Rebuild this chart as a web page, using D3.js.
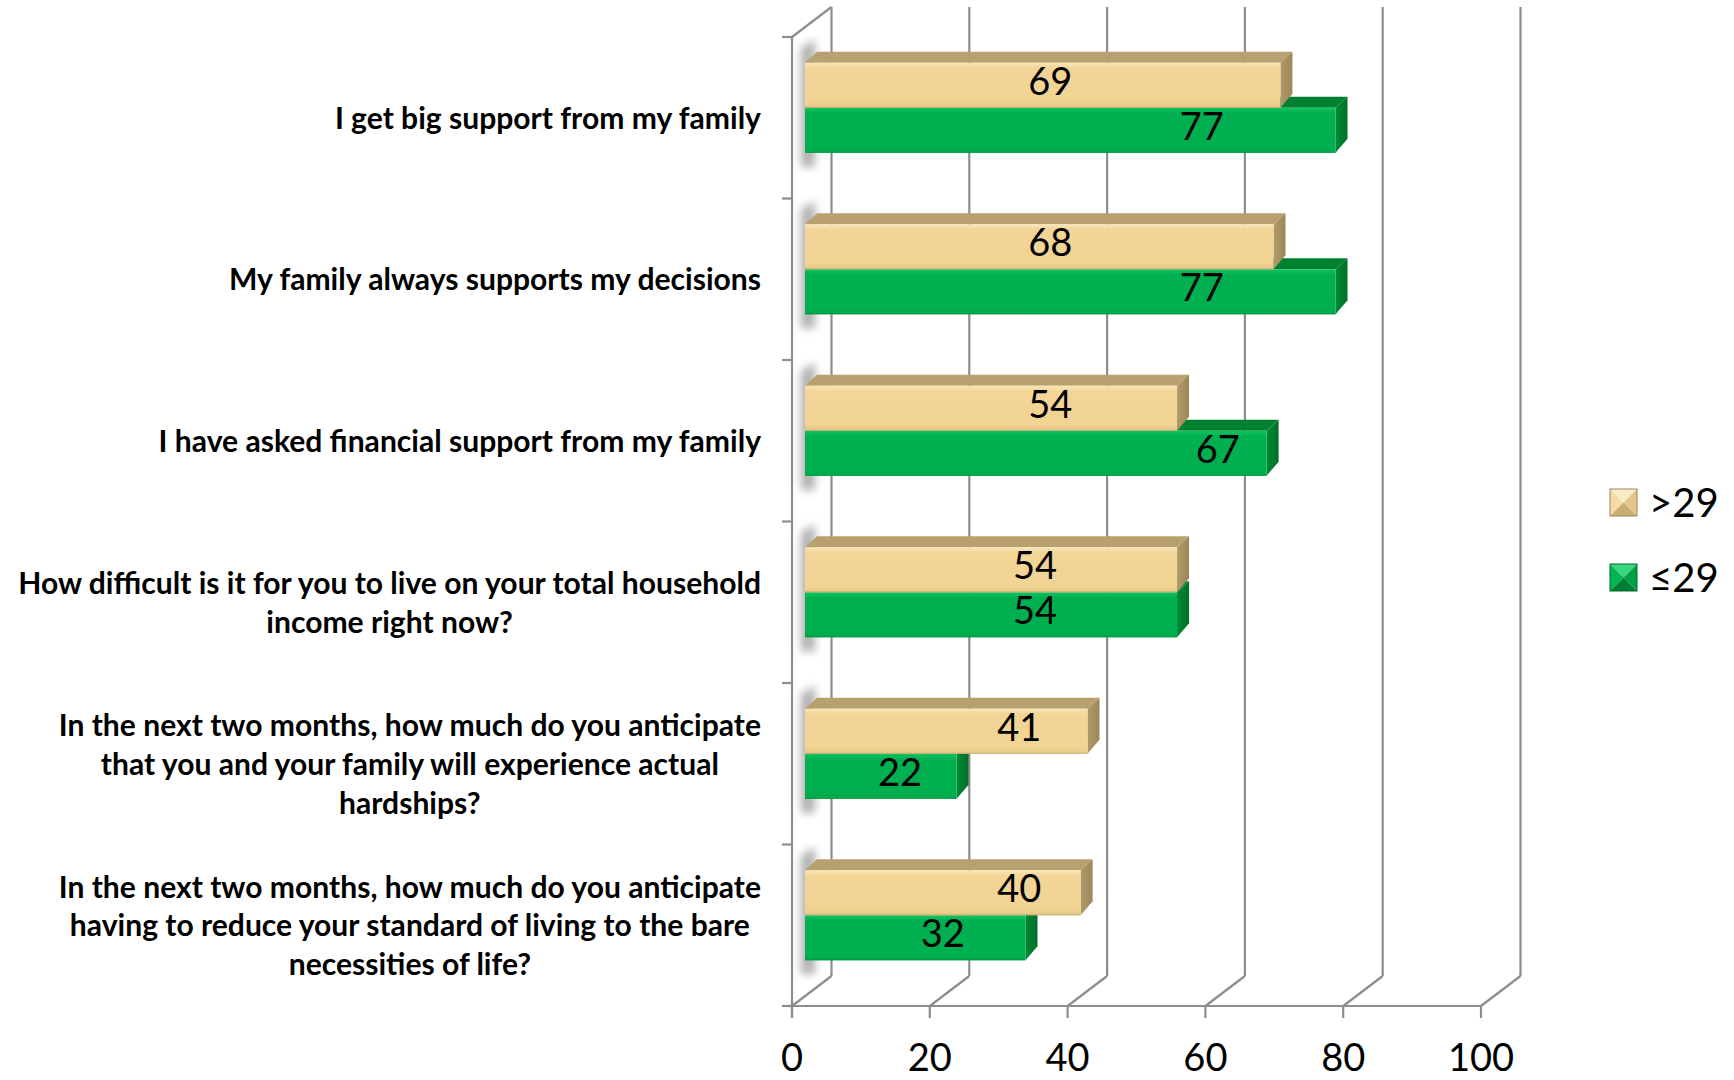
<!DOCTYPE html>
<html>
<head>
<meta charset="utf-8">
<script src="https://cdn.jsdelivr.net/npm/d3@7"></script>
<style>
  html, body { margin: 0; padding: 0; background: #ffffff; }
  svg { display: block; }
</style>
</head>
<body>
<svg id="chart" width="1734" height="1080"></svg>
<script>
// ---- data ---------------------------------------------------------------
const categories = [
  ["I get big support from my family"],
  ["My family always supports my decisions"],
  ["I have asked financial support from my family"],
  ["How difficult is it for you to live on your total household", "income right now?"],
  ["In the next two months, how much do you anticipate", "that you and your family will experience actual", "hardships?"],
  ["In the next two months, how much do you anticipate", "having to reduce your standard of living to the bare", "necessities of life?"]
];
const seriesNames = [">29", "\u226429"];
const over29 = [69, 68, 54, 54, 41, 40];
const upTo29 = [77, 77, 67, 54, 22, 32];
// where each value label sits along the value axis
const over29LabelAt = [35.6, 35.6, 35.6, 33.4, 31.1, 31.1];
const upTo29LabelAt = [57.6, 57.6, 59.9, 33.4, 13.8, 20.0];
const xTicks = [0, 20, 40, 60, 80, 100];

// ---- layout -------------------------------------------------------------
const W = 1734, H = 1080;
const plot = { left: 792, right: 1481, top: 37, bottom: 1006 };
const wallDepth = { dx: 39.5, dy: -30 };          // floor / wall depth
const barOffset = { dx: 13, dy: -10 };            // bar front face inside the box
const barDepth = { dx: 12, dy: -11 };             // thickness of each bar
const barH = 45;
const gridColor = "#8d8d8d";

const svg = d3.select("#chart");
const defs = svg.append("defs");

const x = d3.scaleLinear().domain([0, 100]).range([plot.left, plot.right]);
const y = d3.scaleBand().domain(d3.range(categories.length)).range([plot.top, plot.bottom]);
const sub = d3.scaleBand().domain([0, 1]).range([-barH, barH]);

const palettes = [
  { front: ["#f8e6b8", "#f2d597", "#f1d494", "#e6c885"], top: "#b9a16f", end: ["#b09a69", "#9c875a"], stroke: "#c8b07a" },
  { front: ["#10c462", "#00b050", "#00b050", "#00a84b"], top: "#00812f", end: ["#008a35", "#006f28"], stroke: "#009a44" }
];

palettes.forEach((p, i) => {
  const gr = defs.append("linearGradient").attr("id", "front" + i)
    .attr("x1", 0).attr("y1", 0).attr("x2", 0).attr("y2", 1);
  gr.append("stop").attr("offset", "0").attr("stop-color", p.front[0]);
  gr.append("stop").attr("offset", "0.12").attr("stop-color", p.front[1]);
  gr.append("stop").attr("offset", "0.85").attr("stop-color", p.front[2]);
  gr.append("stop").attr("offset", "1").attr("stop-color", p.front[3]);
  const ge = defs.append("linearGradient").attr("id", "end" + i)
    .attr("x1", 0).attr("y1", 0).attr("x2", 1).attr("y2", 0);
  ge.append("stop").attr("offset", "0").attr("stop-color", p.end[0]);
  ge.append("stop").attr("offset", "1").attr("stop-color", p.end[1]);
});

const blur = defs.append("filter").attr("id", "soft")
  .attr("x", "-100%").attr("y", "-50%").attr("width", "300%").attr("height", "200%");
blur.append("feGaussianBlur").attr("stdDeviation", 4);

// ---- box: walls, floor, grid -------------------------------------------
const frame = svg.append("g").attr("fill", "none").attr("stroke", gridColor)
  .attr("stroke-width", 2.2);

// back-wall gridlines
frame.selectAll("line.grid").data(xTicks).join("line")
  .attr("x1", d => x(d) + wallDepth.dx).attr("x2", d => x(d) + wallDepth.dx)
  .attr("y1", plot.bottom + wallDepth.dy).attr("y2", plot.top + wallDepth.dy);

// floor diagonals
frame.selectAll("line.floor").data(xTicks).join("line")
  .attr("x1", d => x(d)).attr("x2", d => x(d) + wallDepth.dx)
  .attr("y1", plot.bottom).attr("y2", plot.bottom + wallDepth.dy);

// front value axis with tick marks
frame.append("line").attr("x1", plot.left - 10).attr("x2", plot.right)
  .attr("y1", plot.bottom).attr("y2", plot.bottom);
frame.selectAll("line.xtick").data(xTicks).join("line")
  .attr("x1", d => x(d)).attr("x2", d => x(d))
  .attr("y1", plot.bottom).attr("y2", plot.bottom + 12);

// left wall: front edge, top edge and category ticks
frame.append("line").attr("x1", plot.left).attr("x2", plot.left)
  .attr("y1", plot.top).attr("y2", plot.bottom + 12);
frame.append("line").attr("x1", plot.left).attr("x2", plot.left + wallDepth.dx)
  .attr("y1", plot.top).attr("y2", plot.top + wallDepth.dy);
const catEdges = d3.range(categories.length + 1).map(i => plot.top + i * y.step());
frame.selectAll("line.ytick").data(catEdges).join("line")
  .attr("x1", plot.left - 10).attr("x2", plot.left)
  .attr("y1", d => d).attr("y2", d => d);

// ---- bars ---------------------------------------------------------------
const rows = categories.map((c, i) => ({
  i,
  values: [over29[i], upTo29[i]],
  labelAt: [over29LabelAt[i], upTo29LabelAt[i]]
}));

const barsG = svg.append("g");

// soft shading where the bars meet the left wall
barsG.selectAll("polygon.shade").data(rows).join("polygon")
  .attr("points", r => {
    const c = y(r.i) + y.bandwidth() / 2 + barOffset.dy;
    const x0 = x(0) + barOffset.dx;
    const t = c - barH + barDepth.dy - 12, b = c + barH + 14;
    return [[x0 - 4, t + 8], [x0 + 10, t], [x0 + 10, b], [x0 - 4, b]].join(" ");
  })
  .attr("fill", "#707070").attr("opacity", 0.55).attr("filter", "url(#soft)");

function barShape(g, v, s, i) {
  const p = palettes[s];
  const c = y(i) + y.bandwidth() / 2 + barOffset.dy;
  const x0 = x(0) + barOffset.dx, x1 = x(v) + barOffset.dx;
  const y0 = c + sub(s), y1 = y0 + barH;
  const bx = barDepth.dx, by = barDepth.dy;
  g.append("polygon")
    .attr("points", [[x0, y0], [x1, y0], [x1 + bx, y0 + by], [x0 + bx, y0 + by]].join(" "))
    .attr("fill", p.top);
  g.append("polygon")
    .attr("points", [[x1, y0], [x1 + bx, y0 + by], [x1 + bx, y1 + by - 3], [x1, y1]].join(" "))
    .attr("fill", `url(#end${s})`);
  g.append("rect")
    .attr("x", x0).attr("y", y0).attr("width", x1 - x0).attr("height", barH)
    .attr("fill", `url(#front${s})`);
  g.append("line")
    .attr("x1", x0).attr("x2", x1).attr("y1", y1 - 0.5).attr("y2", y1 - 0.5)
    .attr("stroke", p.stroke).attr("stroke-width", 1);
}

rows.forEach(r => {
  const g = barsG.append("g");
  // lower (≤29) bar first so the >29 bar covers its top face
  barShape(g, r.values[1], 1, r.i);
  barShape(g, r.values[0], 0, r.i);
});

// value labels
const valueLabels = [];
rows.forEach(r => r.values.forEach((v, s) => valueLabels.push({ i: r.i, s, v, at: r.labelAt[s] })));
svg.append("g").selectAll("text").data(valueLabels).join("text")
  .attr("x", d => x(d.at) + barOffset.dx)
  .attr("y", d => y(d.i) + y.bandwidth() / 2 + barOffset.dy + sub(d.s) + barH / 2 - 4)
  .attr("dy", "0.36em")
  .attr("text-anchor", "middle")
  .attr("font-family", "Lato, 'Open Sans', sans-serif")
  .attr("font-size", 38)
  .attr("fill", "#000")
  .text(d => d.v);

// ---- axis labels --------------------------------------------------------
svg.append("g").selectAll("text").data(xTicks).join("text")
  .attr("x", d => x(d)).attr("y", 1057).attr("dy", "0.36em")
  .attr("text-anchor", "middle")
  .attr("font-family", "Lato, 'Open Sans', sans-serif")
  .attr("font-size", 38).attr("fill", "#000")
  .text(d => d);

const labelRight = 761, lineGap = 38.7, labelCondense = 0.97;
const catG = svg.append("g")
  .attr("font-family", "Lato, 'Open Sans', sans-serif")
  .attr("font-weight", 700).attr("font-size", 31).attr("fill", "#000");

categories.forEach((lines, i) => {
  const cy = y(i) + y.bandwidth() / 2;
  const texts = lines.map((line, k) => catG.append("text")
    .attr("y", cy + (k - (lines.length - 1) / 2) * lineGap)
    .attr("dy", "0.36em")
    .attr("text-anchor", "middle")
    .text(line));
  const widths = texts.map(t => t.node().getComputedTextLength() * labelCondense);
  const maxW = d3.max(widths);
  texts.forEach((t, k) => t.attr("x", labelRight - maxW / 2)
    .attr("textLength", widths[k]).attr("lengthAdjust", "spacingAndGlyphs"));
});

// ---- legend -------------------------------------------------------------
const legend = svg.append("g").attr("transform", "translate(1610,489)");
const legendShades = [
  { top: "#f9ebc6", left: "#f4dca6", right: "#e3c688", bottom: "#c9ad73", border: "#9a865c" },
  { top: "#3ad67e", left: "#00b654", right: "#00a047", bottom: "#007e35", border: "#006b2b" }
];
seriesNames.forEach((name, s) => {
  const g = legend.append("g").attr("transform", `translate(0,${s * 75})`);
  const sz = 27, m = sz / 2, sh = legendShades[s];
  g.append("polygon").attr("points", `0,0 ${sz},0 ${m},${m}`).attr("fill", sh.top);
  g.append("polygon").attr("points", `0,0 ${m},${m} 0,${sz}`).attr("fill", sh.left);
  g.append("polygon").attr("points", `${sz},0 ${sz},${sz} ${m},${m}`).attr("fill", sh.right);
  g.append("polygon").attr("points", `0,${sz} ${m},${m} ${sz},${sz}`).attr("fill", sh.bottom);
  g.append("rect").attr("width", sz).attr("height", sz).attr("fill", "none")
    .attr("stroke", sh.border).attr("stroke-width", 1);
  g.append("text").attr("x", 39).attr("y", m).attr("dy", "0.36em")
    .attr("font-family", "Lato, 'Open Sans', sans-serif")
    .attr("font-size", 40).attr("fill", "#000")
    .text(name);
});
</script>
</body>
</html>
